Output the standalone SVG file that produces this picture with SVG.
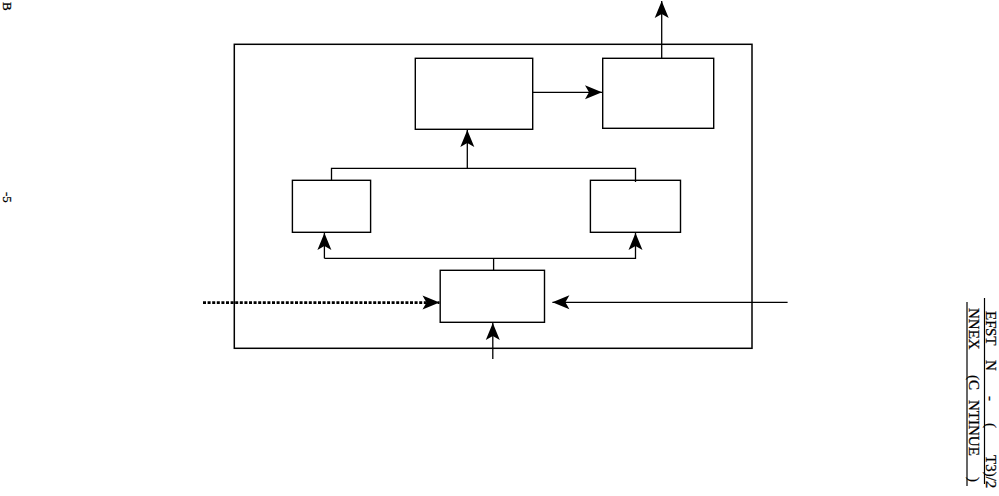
<svg xmlns="http://www.w3.org/2000/svg" width="999" height="496" viewBox="0 0 999 496">
<style>
.box{fill:none;stroke:#000;stroke-width:1.4}
.frame{fill:none;stroke:#000;stroke-width:1.5}
.ln{fill:none;stroke:#000;stroke-width:1.3}
.arr{fill:none;stroke:#000;stroke-width:1.3;marker-end:url(#ah)}
.dot{fill:none;stroke:#000;stroke-width:2.8;stroke-dasharray:3 1.6;marker-end:url(#ah)}
.t{font-family:"Liberation Serif","Times New Roman",serif;font-size:15px;fill:#000;stroke:#000;stroke-width:0.25}
.ul{stroke:#000;stroke-width:1.2}
</style>
<defs>
<marker id="ah" viewBox="-18 -8 19 16" refX="0" refY="0" markerWidth="19" markerHeight="16" markerUnits="userSpaceOnUse" orient="auto">
<path d="M0,0 L-17,-7 L-13,0 L-17,7 Z" fill="#000"/>
</marker>
</defs>
<rect width="999" height="496" fill="#fff"/>
<g id="frame"><rect class="frame" x="234.3" y="44.3" width="517.7" height="304"/></g>
<g id="node-top-left"><rect class="box" x="415.3" y="58.3" width="117.4" height="71"/></g>
<g id="node-top-right"><rect class="box" x="602.7" y="58.3" width="111" height="70"/></g>
<g id="node-mid-left"><rect class="box" x="292.4" y="180.3" width="78.2" height="52"/></g>
<g id="node-mid-right"><rect class="box" x="590.4" y="180.3" width="90.1" height="52"/></g>
<g id="node-bottom"><rect class="box" x="440.2" y="270.3" width="104.3" height="52"/></g>
<g id="connectors">
<path class="arr" d="M532.7,92.3 H602"/>
<path class="arr" d="M661.7,58.3 V1"/>
<path class="ln" d="M331.5,180.3 V168.3 H635.5 V182"/>
<path class="arr" d="M467.3,168.3 V130"/>
<path class="ln" d="M493.6,270.3 V258.3"/>
<path class="arr" d="M324.4,258.3 H635.5 V233"/>
<path class="arr" d="M324.4,258.3 V233"/>
<path class="dot" d="M203,302.6 H439.5"/>
<path class="arr" d="M787.6,302.3 H552.4"/>
<path class="arr" d="M492.8,359 V323"/>
</g>
<g id="margin-text">
<text class="t" style="font-size:13px" transform="translate(2.5,0) rotate(90)" x="2" y="0">B</text>
<text class="t" style="font-size:13px" transform="translate(2.5,0) rotate(90)" x="192" y="0">-5</text>
<text class="t" transform="translate(986,0) rotate(90)"><tspan x="311" y="0">EF</tspan><tspan x="328" y="0">ST</tspan><tspan x="360" y="0">N</tspan><tspan x="396" y="0">-</tspan><tspan x="423" y="0">(</tspan><tspan x="455" y="0">T3)/2</tspan></text>
<line class="ul" x1="984.5" y1="298" x2="984.5" y2="484"/>
<text class="t" transform="translate(969,0) rotate(90)"><tspan x="308" y="0">NNEX</tspan><tspan x="375" y="0">(C</tspan><tspan x="400" y="0">NTINUE</tspan><tspan x="477" y="0">)</tspan></text>
<line class="ul" x1="967" y1="302" x2="967" y2="486"/>
</g>
</svg>
